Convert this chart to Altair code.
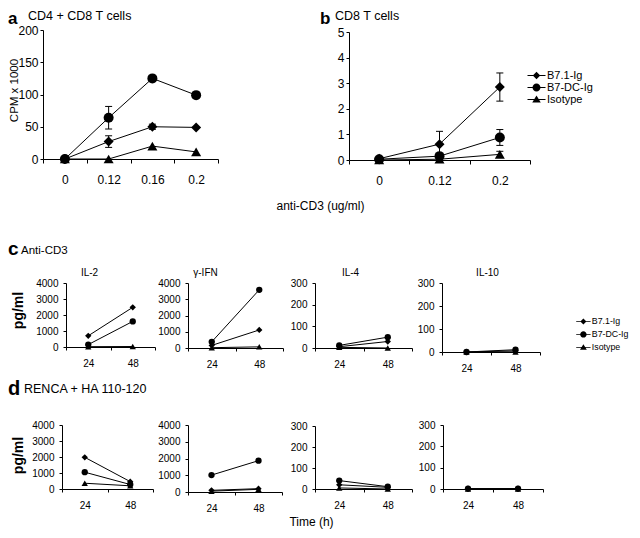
import altair as alt
import pandas as pd

FONT = "Liberation Sans"
W, H = 624, 522
OX, OY = 8, 8

series = ["B7.1-Ig", "B7-DC-Ig", "Isotype"]
point_shapes = ["diamond", "circle", "triangle-up"]
legend_shapes = [
    "M-1.8,-0.1H1.8V0.1H-1.8Z M0,-0.75L0.75,0L0,0.75L-0.75,0Z",
    "M-1.8,-0.1H1.8V0.1H-1.8Z M-0.8,0A0.8,0.8 0 1,1 0.8,0A0.8,0.8 0 1,1 -0.8,0Z",
    "M-1.8,-0.1H1.8V0.1H-1.8Z M0,-0.8L0.85,0.6L-0.85,0.6Z",
]

# ---- panel a: CD4 + CD8 T cells (CPM x 1000) ----
a_dose = ["0", "0.12", "0.16", "0.2"]
a_b71 = [0, 27, 50, 49]
a_dc = [0, 64, 125, 99]
a_iso = [0, 0, 20, 11]
a_b71_err = [0, 9, 4, 0]
a_dc_err = [0, 17.5, 0, 0]
a_iso_err = [0, 0, 0, 0]
a_ticks = [0, 50, 100, 150, 200]

# ---- panel b: CD8 T cells ----
b_dose = ["0", "0.12", "0.2"]
b_b71 = [0.05, 0.62, 2.85]
b_dc = [0.03, 0.15, 0.88]
b_iso = [0.0, 0.03, 0.22]
b_b71_err = [0, 0.5, 0.55]
b_dc_err = [0, 0, 0.31]
b_iso_err = [0, 0, 0.12]
b_ticks = [0, 1, 2, 3, 4, 5]

# ---- panels c / d: cytokines (pg/ml) at 24 h and 48 h ----
hours = ["24", "48"]
cytokines = ["IL-2", "\u03b3-IFN", "IL-4", "IL-10"]
cyt_max = [4000, 4000, 300, 300]
cyt_ticks = [[0, 1000, 2000, 3000, 4000], [0, 1000, 2000, 3000, 4000],
             [0, 100, 200, 300], [0, 100, 200, 300]]
c_b71 = [[700, 2480], [160, 1110], [6, 30], [0, 5]]
c_dc = [[150, 1600], [380, 3580], [12, 50], [0, 10]]
c_iso = [[20, 30], [20, 70], [3, 0], [0, 0]]
d_b71 = [[1980, 460], [100, 200], [20, 8], [1, 1]]
d_dc = [[1050, 280], [1010, 1870], [40, 11], [2, 2]]
d_iso = [[360, 200], [50, 160], [5, 0], [0, 0]]

letters = ["a", "b", "c", "d"]
headings = ["CD4 + CD8 T cells", "CD8 T cells", "Anti-CD3", "RENCA + HA 110-120"]

# ---- layout (page pixels): x_left, x_right, y_top, y_bottom ----
frame_a = (43, 218, 30, 159)
frame_b = (349, 530, 32, 160)
frames_c = [(66, 155, 283, 347), (188, 283, 283, 348), (315, 412, 283, 348), (442, 540, 283, 352)]
frames_d = [(62, 153, 425, 489), (188, 282, 425, 492), (315, 412, 426, 489), (443, 543, 425, 489)]
c_title_x = [89, 205, 350, 487]
c_title_y = 272


def panel(cats, vals, errs, ymax, yticks, frame, big, xtitle=None, ytitle=None):
    xl, xr, yt, yb = frame
    rows = []
    for k, s in enumerate(series):
        for i, c in enumerate(cats):
            v = vals[k][i]
            e = errs[k][i] if errs else 0
            rows.append(dict(x=c, i=i, v=v, s=s, lo=v - e, hi=v + e, e=e))
    df = pd.DataFrame(rows)
    fs = 12 if big else 10
    xs = alt.Scale(type="band", domain=cats, range=[xl - OX, xr - OX],
                   paddingInner=0, paddingOuter=0)
    ys = alt.Scale(domain=[0, ymax], range=[yb - OY, yt - OY], nice=False, zero=False)
    xax = dict(orient="bottom", offset=(yb - OY) - H, labelAngle=0, tickBand="extent",
               labelFontSize=fs, tickSize=4 if big else 3, labelPadding=11 if big else 8)
    if xtitle:
        xax.update(title=xtitle[0], titleX=xtitle[1] - OX, titleY=xtitle[2] - yb,
                   titleFontSize=xtitle[3], titleFontWeight="normal",
                   titleBaseline="middle", titleAlign="center", titleAngle=0)
    else:
        xax["title"] = None
    yax = dict(orient="left", offset=-(xl - OX), values=yticks, format="d", labelFontSize=fs,
               tickSize=3, labelPadding=2 if big else 5)
    if ytitle:
        yax.update(title=ytitle[0], titleX=ytitle[1] - xl, titleY=ytitle[2] - OY,
                   titleFontSize=ytitle[3], titleFontWeight=ytitle[4], titleAngle=270,
                   titleBaseline="middle", titleAlign="center")
    else:
        yax["title"] = None
    x_axis = alt.Axis(**xax)
    y_axis = alt.Axis(**yax)

    def X():
        return alt.X("x:N", scale=xs, bandPosition=0.5, axis=x_axis)

    def Y(field):
        return alt.Y(field, scale=ys, axis=y_axis)

    psize = 100 if big else 40
    base = alt.Chart(df)
    layers = [base.mark_line(color="black", strokeWidth=1).encode(
        x=X(), y=Y("v:Q"), detail="s:N", order="i:Q")]
    if errs:
        eb = base.transform_filter("datum.e > 0")
        layers.append(eb.mark_rule(color="black", strokeWidth=1).encode(
            x=X(), y=Y("lo:Q"), y2="hi:Q"))
        layers.append(eb.mark_tick(color="black", size=7, thickness=1, opacity=1).encode(
            x=X(), y=Y("hi:Q")))
        layers.append(eb.mark_tick(color="black", size=7, thickness=1, opacity=1).encode(
            x=X(), y=Y("lo:Q")))
    layers.append(base.mark_point(filled=True, color="black", opacity=1, size=psize).encode(
        x=X(), y=Y("v:Q"),
        shape=alt.Shape("s:N", scale=alt.Scale(domain=series, range=point_shapes), legend=None)))
    return alt.layer(*layers)


def legend_layer(lx, ly, size, fs, rowpad, loff):
    return alt.Chart(pd.DataFrame({"s": series})).transform_filter("false").mark_point(
        filled=True, color="black", opacity=1).encode(
        shape=alt.Shape("s:N", scale=alt.Scale(domain=series, range=legend_shapes),
                        legend=alt.Legend(orient="none", legendX=lx - OX, legendY=ly - OY,
                                          title=None, symbolSize=size, labelFontSize=fs,
                                          labelFont=FONT, labelColor="black",
                                          rowPadding=rowpad, labelOffset=loff,
                                          symbolFillColor="black", symbolStrokeWidth=0,
                                          padding=0, symbolOffset=0)))


def text_layer(txt, x, y, size, bold=False):
    return alt.Chart(pd.DataFrame({"t": [txt]})).mark_text(
        align="left", baseline="alphabetic", fontSize=size,
        fontWeight="bold" if bold else "normal", font=FONT, color="black").encode(
        text="t:N", x=alt.value(x - OX), y=alt.value(y - OY))


layers = []
layers.append(panel(a_dose, [a_b71, a_dc, a_iso], [a_b71_err, a_dc_err, a_iso_err], 200, a_ticks,
                    frame_a, True, xtitle=("anti-CD3 (ug/ml)", 320, 205, 12),
                    ytitle=("CPM x 1000", 14.5, 90, 11.5, "normal")))
layers.append(panel(b_dose, [b_b71, b_dc, b_iso], [b_b71_err, b_dc_err, b_iso_err], 5, b_ticks,
                    frame_b, True))
for j in range(4):
    layers.append(panel(hours, [c_b71[j], c_dc[j], c_iso[j]], None, cyt_max[j], cyt_ticks[j],
                        frames_c[j], False,
                        xtitle=(cytokines[j], c_title_x[j], c_title_y, 10),
                        ytitle=("pg/ml", 18, 310, 14, "bold") if j == 0 else None))
for j in range(4):
    layers.append(panel(hours, [d_b71[j], d_dc[j], d_iso[j]], None, cyt_max[j], cyt_ticks[j],
                        frames_d[j], False,
                        xtitle=("Time (h)", 311, 521.5, 12) if j == 0 else None,
                        ytitle=("pg/ml", 18, 455, 14, "bold") if j == 0 else None))

layers.append(legend_layer(531, 70, 100, 11, 0, 5))
layers.append(legend_layer(579, 317, 64, 8.8, 3, 4))

layers.append(text_layer(letters[0], 8, 23.5, 17, True))
layers.append(text_layer(headings[0], 28, 20, 12.5))
layers.append(text_layer(letters[1], 320, 23.5, 17, True))
layers.append(text_layer(headings[1], 335, 20, 12.5))
layers.append(text_layer(letters[2], 8, 255, 19, True))
layers.append(text_layer(headings[2], 21, 254, 11.5))
layers.append(text_layer(letters[3], 8, 395, 20, True))
layers.append(text_layer(headings[3], 24, 393, 12.5))

chart = alt.layer(*layers).resolve_scale(
    x="independent", y="independent", shape="independent"
).properties(
    width=W, height=H, autosize=alt.AutoSizeParams(type="none"), padding=0
).configure_view(stroke=None).configure_axis(
    grid=False, domainColor="black", tickColor="black", labelColor="black",
    titleColor="black", labelFont=FONT, titleFont=FONT, domainWidth=1, tickWidth=1
)

chart.save("out.html", embed_options={"renderer": "svg", "actions": False})
